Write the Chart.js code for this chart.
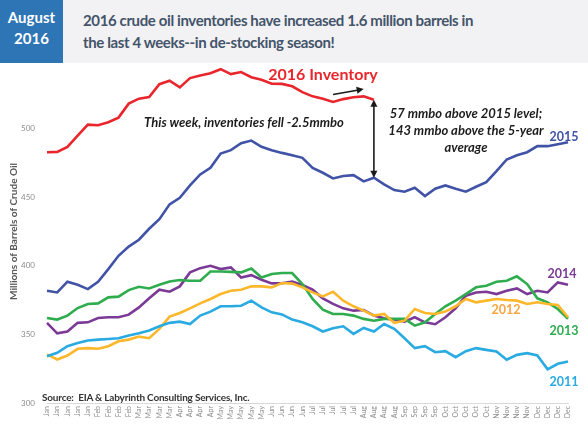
<!DOCTYPE html>
<html>
<head>
<meta charset="utf-8">
<script src="https://cdn.jsdelivr.net/npm/chart.js@4.4.1/dist/chart.umd.min.js"></script>
<style>
  html, body { margin: 0; padding: 0; background: #fff; }
  #wrap { position: relative; width: 588px; height: 424px; overflow: hidden; font-family: Lato, "Open Sans", sans-serif; }
  #c { position: absolute; left: 0; top: 0; }
  .header { position: absolute; left: 0; top: 0; width: 588px; height: 63px; background: #f2f2f4; }
  .datebox { position: absolute; left: 0; top: 0; width: 63px; height: 63px; background: #2e75b6; color: #fff;
    font-weight: bold; font-size: 15px; line-height: 21px; text-align: center; padding-top: 7px; box-sizing: border-box; }
  .title { position: absolute; left: 83px; top: 9px; color: #44546a; font-weight: bold; font-size: 15px; letter-spacing: -0.38px; line-height: 22px; white-space: nowrap; }
  .note { position: absolute; transform: translate(-50%, -50%); white-space: nowrap; font-weight: bold; }
  .it { font-style: italic; color: #1c1c1c; font-size: 13px; }
  .yr { font-size: 12.5px; }
  .source { position: absolute; left: 42px; top: 391px; font-size: 10px; letter-spacing: -0.2px; color: #333; font-weight: bold; white-space: nowrap; }
</style>
</head>
<body>
<div id="wrap">
  <canvas id="c" width="588" height="424"></canvas>
  <div class="header"></div>
  <div class="datebox">August<br>2016</div>
  <div class="title">2016 crude oil inventories have increased 1.6 million barrels in<br>the last 4 weeks--in de-stocking season!</div>

  <div class="note" style="left:323px;top:73px;color:#e8262b;font-size:16px;">2016 Inventory</div>
  <div class="note it" style="left:244px;top:122px;">This week, inventories fell -2.5mmbo</div>
  <div class="note it" style="left:466px;top:130px;text-align:center;line-height:17px;">57 mmbo above 2015 level;<br>143 mmbo above the 5-year<br>average</div>

  <div class="note yr" style="left:564px;top:136px;color:#4153a6;">2015</div>
  <div class="note yr" style="left:562px;top:273px;color:#7b3a96;">2014</div>
  <div class="note yr" style="left:506px;top:309px;color:#f6a540;">2012</div>
  <div class="note yr" style="left:564px;top:330px;color:#2eac4e;">2013</div>
  <div class="note yr" style="left:564px;top:381px;color:#29abe2;">2011</div>

  <div class="source">Source:&nbsp; EIA &amp; Labyrinth Consulting Services, Inc.</div>
</div>

<script>
// weekly categories
const weeks = [
  "Jan","Jan","Jan","Jan","Jan","Feb","Feb","Feb","Feb","Mar","Mar","Mar","Mar",
  "Apr","Apr","Apr","Apr","May","May","May","May","May","Jun","Jun","Jun","Jun",
  "Jul","Jul","Jul","Jul","Jul","Aug","Aug","Aug","Aug","Sep","Sep","Sep","Sep",
  "Oct","Oct","Oct","Oct","Oct","Nov","Nov","Nov","Nov","Dec","Dec","Dec","Dec"
];

// millions of barrels
const inv2016 = [482.8,483,486.7,494.9,502.9,502.4,504.6,508,518.2,521.8,523,532.4,534.9,530,536.8,538.7,540.4,543.3,539.7,541.2,537.5,535.6,532.7,532.6,530.8,526.6,523.5,521.8,519.4,521.5,522.8,523.5,521];
const inv2015 = [381.8,380.6,388.4,386.2,383,388.4,397.6,407.3,414,419,427,434,444.8,449.6,458.6,466.6,471.4,481.8,484.3,489.3,491.3,486.7,484.3,482.3,480.5,478.7,471.4,467.8,463.7,465.4,466.1,461.5,464.2,459.3,455.2,454,456.9,450.8,456.2,458.6,456.2,454,457.6,461,469,477.5,480.6,482.8,487.2,487.2,488.6,490];
const inv2014 = [358.4,350.8,352.1,358.4,358.8,362,362.5,362.5,364.4,369.7,376.3,382.6,381.1,385,395.2,398.3,400,397.6,398.8,391.5,393.2,389.8,387.2,387.3,388.5,386,382.6,376.3,372.2,369,367.3,367.8,363.7,361.7,360.8,359.3,362.5,358.8,357.4,362.5,369,378.2,380.6,381.1,379.4,381.8,383.5,379.4,381.8,380.6,387.9,386.2];
const inv2013 = [362,360.8,363.7,369.2,372.2,372.6,377,377.5,382.3,384.7,383.5,386.2,388.6,389.6,389.1,389.1,395.9,395.9,395.6,395.2,398,391.5,394,394.7,394.7,386.7,375.8,368,364.9,364.9,363.7,361.3,360,361.3,361.3,361.3,356.4,358.8,364.9,370.5,374.6,379.4,384.3,385.5,388.4,389.1,392.3,386.7,376.3,373.4,368.5,361.3];
const inv2012 = [335.4,331.7,334.6,339.5,340,339.5,341.4,345,346.2,348.4,347.2,354,363,365.6,369,372.6,375.8,379.4,381.8,382.6,385,385,384.3,387.5,387,384.3,380.6,377.7,381.1,374.6,370.5,367.3,363.7,364.9,358.4,360,368.5,365.6,364.9,366.6,370.5,375.8,373.4,374.6,375.8,375.1,374.6,372.2,373.4,372.2,371.4,362.5];
const inv2011 = [334.1,336.6,341.4,343.8,345.5,346.2,346.7,347.2,349.2,350.8,352.8,355.9,358.4,359.3,357.6,363.7,366.6,370.5,370.5,370.9,374.6,369.7,366.1,364.6,360.8,358.8,355.9,352.1,354.5,355.9,350.4,354.7,352.1,357.6,354,347.2,340,341.4,337,337.8,333.4,337.8,340,338.7,337.5,331.5,335.1,336.3,334.6,324.5,328.6,330.3];

const yTicks = [300, 350, 400, 450, 500, 550];

// annotation arrows in data space: [week index, value]
const gapWeek = 32;
const weekArrow = { from: [28, 524.8], to: [31, 528.9] };

function arrowHead(ctx, x1, y1, x2, y2) {
  const a = Math.atan2(y2 - y1, x2 - x1);
  const len = 7, w = 3.5;
  ctx.beginPath();
  ctx.moveTo(x2, y2);
  ctx.lineTo(x2 - len * Math.cos(a) + w * Math.sin(a), y2 - len * Math.sin(a) - w * Math.cos(a));
  ctx.lineTo(x2 - len * Math.cos(a) - w * Math.sin(a), y2 - len * Math.sin(a) + w * Math.cos(a));
  ctx.closePath();
  ctx.fill();
}

const arrows = {
  id: "arrows",
  afterDatasetsDraw(chart) {
    const { ctx, scales: { x, y } } = chart;
    ctx.save();
    ctx.strokeStyle = "#1a1a1a";
    ctx.fillStyle = "#1a1a1a";
    ctx.lineWidth = 1.6;

    // gap between 2016 and 2015 this week
    const gx = x.getPixelForValue(gapWeek);
    const top = y.getPixelForValue(inv2016[gapWeek]);
    const bot = y.getPixelForValue(inv2015[gapWeek]);
    ctx.beginPath();
    ctx.moveTo(gx, top + 6);
    ctx.lineTo(gx, bot - 6);
    ctx.stroke();
    arrowHead(ctx, gx, bot - 10, gx, top);
    arrowHead(ctx, gx, top + 10, gx, bot);

    // small trend arrow over the last weeks
    const ax1 = x.getPixelForValue(weekArrow.from[0]), ay1 = y.getPixelForValue(weekArrow.from[1]);
    const ax2 = x.getPixelForValue(weekArrow.to[0]), ay2 = y.getPixelForValue(weekArrow.to[1]);
    ctx.beginPath();
    ctx.moveTo(ax1, ay1);
    ctx.lineTo(ax2 - 5, ay2 + 1);
    ctx.stroke();
    arrowHead(ctx, ax1, ay1, ax2, ay2);
    ctx.restore();
  }
};

function line(label, data, color) {
  return {
    label, data,
    borderColor: color,
    backgroundColor: color,
    borderWidth: 2.6,
    pointRadius: 0,
    tension: 0,
    fill: false
  };
}

new Chart(document.getElementById("c"), {
  type: "line",
  data: {
    labels: weeks,
    datasets: [
      line("2011", inv2011, "#29abe2"),
      line("2012", inv2012, "#fdb72a"),
      line("2013", inv2013, "#2eac4e"),
      line("2014", inv2014, "#7b3a96"),
      line("2015", inv2015, "#4153a6"),
      line("2016", inv2016, "#e8262b")
    ]
  },
  options: {
    responsive: false,
    animation: false,
    devicePixelRatio: 1,
    layout: { padding: { top: 60, right: 20, left: 0, bottom: 0 } },
    plugins: { legend: { display: false }, tooltip: { enabled: false } },
    scales: {
      x: {
        offset: false,
        grid: { display: false, drawTicks: false },
        border: { display: true, color: "#d9d9d9", width: 1 },
        ticks: {
          autoSkip: false, maxRotation: 90, minRotation: 90,
          padding: 3, color: "#8c8c8c",
          font: { family: "Lato", size: 7 }
        },
        afterFit: s => { s.height = 21; }
      },
      y: {
        min: 300, max: 550,
        afterBuildTicks: s => { s.ticks = yTicks.map(v => ({ value: v })); },
        grid: { display: false, drawTicks: false },
        border: { display: false },
        ticks: {
          padding: 12, color: "#8c8c8c",
          font: { family: "Lato", size: 8 },
          callback: v => (v === 550 ? "" : v)
        },
        title: {
          display: true,
          text: "Millions of Barrels of Crude Oil",
          color: "#595959",
          font: { family: "Lato", size: 10, weight: "bold" },
          padding: { top: 8, bottom: 0 }
        },
        afterFit: s => { s.width = 47; }
      }
    }
  },
  plugins: [arrows]
});
</script>
</body>
</html>
